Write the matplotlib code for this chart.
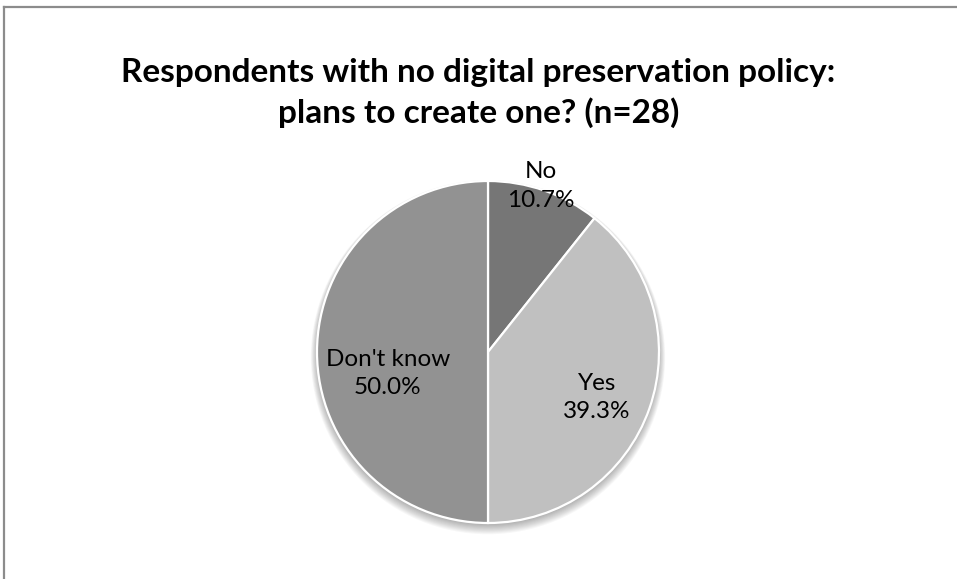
import numpy as np
import matplotlib
matplotlib.use("Agg")
import matplotlib.pyplot as plt
from matplotlib.lines import Line2D
from matplotlib.patches import Circle

categories = ["No", "Yes", "Don't know"]
shares = [10.7, 39.3, 50.0]
colors = ["#767676", "#c0c0c0", "#929292"]
title = "Respondents with no digital preservation policy:\nplans to create one? (n=28)"

plt.rcParams["font.family"] = ["Lato", "DejaVu Sans"]

W, H = 957, 579
fig = plt.figure(figsize=(W / 100, H / 100), dpi=100)
fig.patch.set_facecolor("white")

# pie placement in pixels
cx, cy, r = 488, 352, 171
ax = fig.add_axes([(cx - r) / W, (H - cy - r) / H, 2 * r / W, 2 * r / H])
ax.axis("off")

# soft drop shadow under the pie
for i in range(10):
    ax.add_patch(Circle((0, -0.012 - 0.002 * i), 1.0 + 0.004 * i,
                        facecolor="black", edgecolor="none",
                        alpha=0.03, zorder=0, clip_on=False))

wedges, _ = ax.pie(shares, colors=colors, startangle=90, counterclock=False,
                   radius=1.0,
                   wedgeprops=dict(edgecolor="white", linewidth=1.6),
                   normalize=True)
for w in wedges:
    w.set_zorder(2)
    w.set_clip_on(False)
ax.set_xlim(-1, 1)
ax.set_ylim(-1, 1)
ax.set_aspect("equal")

# label placement: radial distance and angular nudge per slice
label_dist = [1.02, 0.69, 0.60]
label_nudge = [1.5, -3.5, 12.0]
for w, name, val, d, nud in zip(wedges, categories, shares, label_dist, label_nudge):
    mid = np.deg2rad((w.theta1 + w.theta2) / 2 + nud)
    x, y = d * np.cos(mid), d * np.sin(mid)
    ax.text(x, y, f"{name}\n{val:.1f}%", ha="center", va="center",
            fontsize=17.5, color="black", linespacing=1.45,
            zorder=5, clip_on=False)

fig.text(0.5, 1 - 93 / H, title, ha="center", va="center",
         fontsize=24, fontweight="bold", linespacing=1.4)

# chart frame (top and left edges visible)
fig.add_artist(Line2D([4 / W, 1.0], [1 - 7 / H, 1 - 7 / H],
                      color="#8c8c8c", linewidth=1.6))
fig.add_artist(Line2D([4 / W, 4 / W], [0.0, 1 - 7 / H],
                      color="#8c8c8c", linewidth=1.6))

fig.savefig("out.png", dpi=100, facecolor="white")
